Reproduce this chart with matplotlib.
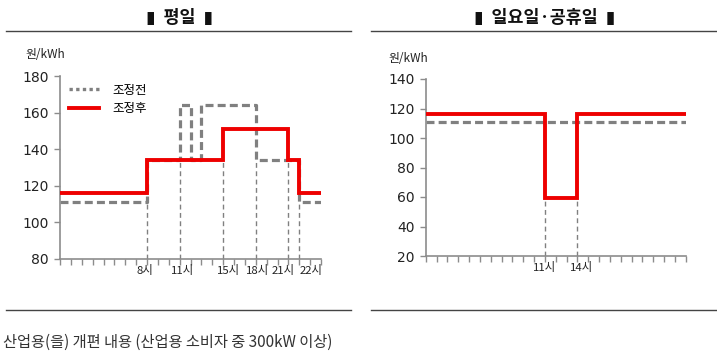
import matplotlib
matplotlib.use("Agg")
import matplotlib.pyplot as plt
from matplotlib.lines import Line2D
import numpy as np

plt.rcParams['font.family'] = ['Noto Sans CJK KR', 'DejaVu Sans']

# ---------------- data ----------------
# weekday (평일): step boundaries in hours and the value for each segment
wd_before_edges = [0, 8, 11, 12, 13, 18, 22, 24]
wd_before_vals = [111, 134, 164, 134, 164, 134, 111]
wd_after_edges = [0, 8, 15, 21, 22, 24]
wd_after_vals = [116, 134, 151, 134, 116]
wd_label_hours = [8, 11, 15, 18, 21, 22]
wd_labels = ['8시', '11시', '15시', '18시', '21시', '22시']

# sunday / holiday (일요일·공휴일)
hd_before_edges = [0, 24]
hd_before_vals = [111]
hd_after_edges = [0, 11, 14, 24]
hd_after_vals = [116, 59, 116]
hd_label_hours = [11, 14]
hd_labels = ['11시', '14시']

titles = ['▮  평일  ▮', '▮  일요일·공휴일  ▮']
unit = '원/kWh'
legend_labels = ['조정전', '조정후']
caption = '산업용(을) 개편 내용 (산업용 소비자 중 300kW 이상)'

# ---------------- style ----------------
RED = '#EE0000'
GRAY = '#808080'
AX = '#8C8C8C'
TXT = '#222222'
# label nudges (hours) so neighbouring labels do not collide
wd_label_shift = [-0.2, 0.3, 0.5, 0.2, -0.5, 1.1]
hd_label_shift = [0.0, 0.4]


def step_xy(edges, vals):
    xs, ys = [], []
    for i, v in enumerate(vals):
        xs += [edges[i], edges[i + 1]]
        ys += [v, v]
    return xs, ys


def value_at(edges, vals, h):
    cands = []
    for i, v in enumerate(vals):
        if edges[i] <= h <= edges[i + 1]:
            cands.append(v)
    return min(cands)


fig = plt.figure(figsize=(7.17, 3.58), dpi=100)
fig.patch.set_facecolor('white')


def draw_panel(rect, ylim, yticks, b_edges, b_vals, a_edges, a_vals,
               lab_hours, labs, shifts, legend=False):
    ax = fig.add_axes(rect)
    ax.set_xlim(0, 24)
    ax.set_ylim(*ylim)
    for s in ['top', 'right']:
        ax.spines[s].set_visible(False)
    for s in ['left', 'bottom']:
        ax.spines[s].set_color(AX)
        ax.spines[s].set_linewidth(1.2)
    # drop lines
    for h in lab_hours:
        top = min(value_at(a_edges, a_vals, h), value_at(b_edges, b_vals, h))
        ax.plot([h, h], [ylim[0], top], color=GRAY, lw=1.0,
                dashes=(3.5, 2.5), zorder=1, clip_on=False)
    bx, by = step_xy(b_edges, b_vals)
    ax.plot(bx, by, color=GRAY, lw=2.3, dashes=(2.5, 1.3), zorder=2,
            solid_capstyle='butt', dash_capstyle='butt')
    axx, ayy = step_xy(a_edges, a_vals)
    ax.plot(axx, ayy, color=RED, lw=2.8, zorder=3, solid_joinstyle='miter')
    ax.set_yticks(yticks)
    ax.set_yticklabels([str(t) for t in yticks], fontsize=10, color=TXT,
                       family=['DejaVu Sans'])
    ax.tick_params(axis='y', length=4, width=1, color=AX, pad=4)
    ax.set_xticks(np.arange(0, 25, 1))
    ax.set_xticklabels([])
    ax.tick_params(axis='x', length=4, width=1, color=AX, direction='out')
    for h, lab, sh in zip(lab_hours, labs, shifts):
        ax.text(h + sh, ylim[0] - (ylim[1] - ylim[0]) * 0.035, lab,
                ha='center', va='top', fontsize=8.2, color=TXT)
    if legend:
        handles = [Line2D([0], [0], color=GRAY, lw=2.4, dashes=(1.0, 1.0)),
                   Line2D([0], [0], color=RED, lw=2.8)]
        ax.legend(handles, legend_labels, loc='upper left', frameon=False,
                  fontsize=9, handlelength=2.4, handletextpad=1.1,
                  bbox_to_anchor=(-0.01, 1.02), labelspacing=0.45)
    return ax


draw_panel([60 / 717, 1 - 259 / 358, 261 / 717, 183 / 358], (80, 180),
           [80, 100, 120, 140, 160, 180], wd_before_edges, wd_before_vals,
           wd_after_edges, wd_after_vals, wd_label_hours, wd_labels,
           wd_label_shift, legend=True)
draw_panel([425.7 / 717, 1 - 256 / 358, 260 / 717, 177 / 358], (20, 140),
           [20, 40, 60, 80, 100, 120, 140], hd_before_edges, hd_before_vals,
           hd_after_edges, hd_after_vals, hd_label_hours, hd_labels,
           hd_label_shift)

# titles, units and rules
fig.text(180 / 717, 1 - 18 / 358, titles[0], ha='center', va='center',
         fontsize=12.5, fontweight='bold', color='#111111')
fig.text(545 / 717, 1 - 18 / 358, titles[1], ha='center', va='center',
         fontsize=12.5, fontweight='bold', color='#111111')
fig.text(25 / 717, 1 - 55 / 358, unit, ha='left', va='center', fontsize=8.5,
         color=TXT)
fig.text(388 / 717, 1 - 58 / 358, unit, ha='left', va='center', fontsize=8.5,
         color=TXT)
for (x0, x1) in [(6, 351), (371, 717)]:
    for y in [31, 310]:
        fig.add_artist(Line2D([x0 / 717, x1 / 717], [1 - y / 358, 1 - y / 358],
                              color='#444444', lw=1.0))
fig.text(3 / 717, 1 - 342 / 358, caption, ha='left', va='center',
         fontsize=11, color='#333333')

fig.savefig('out.png', dpi=100, facecolor='white')
